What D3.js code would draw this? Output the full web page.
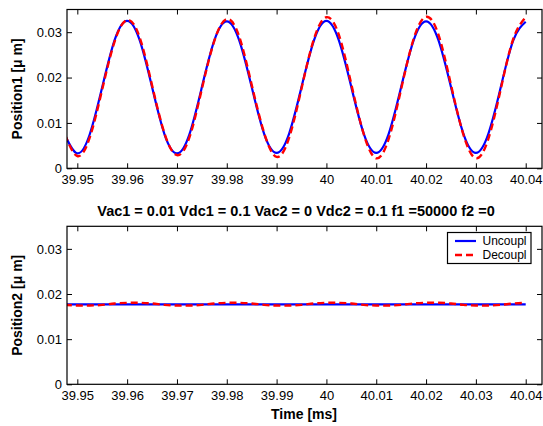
<!DOCTYPE html>
<html>
<head>
<meta charset="utf-8">
<script src="https://cdn.jsdelivr.net/npm/d3@7"></script>
<style>
    body { margin: 0; background: #fff; }
    text { font-family: "Liberation Sans", Arial, sans-serif; }
</style>
</head>
<body>
<div id="chart"></div>
<script>
// time samples [ms]
var time = [39.9475, 39.95, 39.9525, 39.955, 39.9575, 39.96, 39.9625, 39.965, 39.9675,
    39.97, 39.9725, 39.975, 39.9775, 39.98, 39.9825, 39.985, 39.9875,
    39.99, 39.9925, 39.995, 39.9975, 40.00, 40.0025, 40.005, 40.0075,
    40.01, 40.0125, 40.015, 40.0175, 40.02, 40.0225, 40.025, 40.0275,
    40.03, 40.0325, 40.035, 40.0375, 40.04];

// Position1, uncoupled / decoupled
var pos1Uncoupl = [0.0074, 0.0033, 0.0075, 0.0179, 0.0283, 0.0325, 0.0283, 0.0179, 0.0075,
    0.0033, 0.0075, 0.0179, 0.0282, 0.0324, 0.0282, 0.0179, 0.0076,
    0.0034, 0.0076, 0.0179, 0.0282, 0.0325, 0.0282, 0.0179, 0.0076,
    0.0034, 0.0076, 0.0179, 0.0282, 0.0324, 0.0282, 0.0179, 0.0076,
    0.0034, 0.0076, 0.0179, 0.0282, 0.0323];
var pos1Decoupl = [0.0075, 0.0027, 0.0068, 0.0174, 0.0280, 0.0327, 0.0289, 0.0183, 0.0077,
    0.0029, 0.0068, 0.0175, 0.0281, 0.0329, 0.0290, 0.0184, 0.0078,
    0.0025, 0.0067, 0.0176, 0.0285, 0.0333, 0.0294, 0.0185, 0.0075,
    0.0022, 0.0065, 0.0175, 0.0285, 0.0334, 0.0294, 0.0184, 0.0074,
    0.0022, 0.0065, 0.0175, 0.0285, 0.0333];

// Position2, uncoupled / decoupled
var pos2Uncoupl = [0.0177, 0.0177, 0.0177, 0.0177, 0.0177, 0.0177, 0.0177, 0.0177, 0.0177,
    0.0177, 0.0177, 0.0177, 0.0177, 0.0177, 0.0177, 0.0177, 0.0177,
    0.0177, 0.0177, 0.0177, 0.0177, 0.0177, 0.0177, 0.0177, 0.0177,
    0.0177, 0.0177, 0.0177, 0.0177, 0.0177, 0.0177, 0.0177, 0.0177,
    0.0177, 0.0177, 0.0177, 0.0177, 0.0177];
var pos2Decoupl = [0.01760, 0.01745, 0.01745, 0.01760, 0.01790, 0.01805, 0.01805, 0.01790, 0.01760,
    0.01745, 0.01745, 0.01760, 0.01790, 0.01805, 0.01805, 0.01790, 0.01760,
    0.01745, 0.01745, 0.01760, 0.01790, 0.01805, 0.01805, 0.01790, 0.01760,
    0.01745, 0.01745, 0.01760, 0.01790, 0.01805, 0.01805, 0.01790, 0.01760,
    0.01745, 0.01745, 0.01760, 0.01790, 0.01805];

var xTicks = [39.95, 39.96, 39.97, 39.98, 39.99, 40.00, 40.01, 40.02, 40.03, 40.04];
var yTicks = [0, 0.01, 0.02, 0.03];
var seriesNames = ["Uncoupl", "Decoupl"];
var titleText = "Vac1 = 0.01 Vdc1 = 0.1 Vac2 = 0 Vdc2 = 0.1 f1 =50000 f2 =0";

var W = 543, H = 426;
var left = 67, right = 542;

var svg = d3.select("#chart").append("svg")
    .attr("width", W)
    .attr("height", H);

var x = d3.scaleLinear().domain([39.94793, 40.04327]).range([left, right]);

function drawPanel(top, bottom, uncoupl, decoupl, label, id) {
    var y = d3.scaleLinear().domain([0, 0.035]).range([bottom, top]);
    var g = svg.append("g");

    g.append("clipPath").attr("id", id)
        .append("rect")
        .attr("x", left).attr("y", top)
        .attr("width", right - left).attr("height", bottom - top);

    var fmtX = function (d) { return String(+d.toFixed(2)); };
    var fmtY = function (d) { return d === 0 ? "0" : d.toFixed(2); };

    var axB = g.append("g").attr("transform", "translate(0," + bottom + ")")
        .call(d3.axisBottom(x).tickValues(xTicks).tickFormat(fmtX).tickSize(-5).tickSizeOuter(0).tickPadding(6));
    var axT = g.append("g").attr("transform", "translate(0," + top + ")")
        .call(d3.axisTop(x).tickValues(xTicks).tickFormat("").tickSize(-5).tickSizeOuter(0));
    var axL = g.append("g").attr("transform", "translate(" + left + ",0)")
        .call(d3.axisLeft(y).tickValues(yTicks).tickFormat(fmtY).tickSize(-5).tickSizeOuter(0).tickPadding(5));
    var axR = g.append("g").attr("transform", "translate(" + right + ",0)")
        .call(d3.axisRight(y).tickValues(yTicks).tickFormat("").tickSize(-5).tickSizeOuter(0));

    [axB, axT, axL, axR].forEach(function (a) {
        a.select(".domain").remove();
        a.selectAll(".tick line").attr("stroke", "#000");
        a.selectAll(".tick text")
            .style("font-size", "13px")
            .style("font-family", "'Liberation Sans', Arial, sans-serif")
            .attr("fill", "#000");
    });

    var line = d3.line()
        .x(function (d, i) { return x(time[i]); })
        .y(function (d) { return y(d); })
        .curve(d3.curveNatural);

    var lines = g.append("g").attr("clip-path", "url(#" + id + ")");
    lines.append("path")
        .datum(uncoupl)
        .attr("d", line)
        .attr("fill", "none")
        .attr("stroke", "#0000ff")
        .attr("stroke-width", 2.2);
    lines.append("path")
        .datum(decoupl)
        .attr("d", line)
        .attr("fill", "none")
        .attr("stroke", "#ff0000")
        .attr("stroke-width", 2.4)
        .attr("stroke-dasharray", "7,4");

    g.append("rect")
        .attr("x", left).attr("y", top)
        .attr("width", right - left).attr("height", bottom - top)
        .attr("fill", "none")
        .attr("stroke", "#000")
        .attr("stroke-width", 1.2);

    g.append("text")
        .attr("transform", "translate(22," + ((top + bottom) / 2) + ") rotate(-90)")
        .attr("text-anchor", "middle")
        .style("font-size", "14px")
        .style("font-weight", "bold")
        .text(label);

    return y;
}

drawPanel(9.5, 168.3, pos1Uncoupl, pos1Decoupl, "Position1 [\u03bc m]", "clip1");
drawPanel(226.3, 384.3, pos2Uncoupl, pos2Decoupl, "Position2 [\u03bc m]", "clip2");

svg.append("text")
    .attr("x", 296)
    .attr("y", 216)
    .attr("text-anchor", "middle")
    .style("font-size", "14.5px")
    .style("font-weight", "bold")
    .text(titleText);

svg.append("text")
    .attr("x", 304)
    .attr("y", 419)
    .attr("text-anchor", "middle")
    .style("font-size", "14px")
    .style("font-weight", "bold")
    .text("Time [ms]");

// legend
var lg = svg.append("g").attr("transform", "translate(447.5,232.5)");
lg.append("rect")
    .attr("width", 83.5)
    .attr("height", 31)
    .attr("fill", "#fff")
    .attr("stroke", "#000")
    .attr("stroke-width", 1.2);
seriesNames.forEach(function (name, i) {
    var yy = 8.5 + i * 14;
    lg.append("line")
        .attr("x1", 7.5).attr("x2", 28.5)
        .attr("y1", yy).attr("y2", yy)
        .attr("stroke", i === 0 ? "#0000ff" : "#ff0000")
        .attr("stroke-width", i === 0 ? 2.2 : 2.4)
        .attr("stroke-dasharray", i === 0 ? null : "7,4");
    lg.append("text")
        .attr("x", 35)
        .attr("y", yy)
        .attr("dy", "0.36em")
        .style("font-size", "12px")
        .text(name);
});
</script>
</body>
</html>
